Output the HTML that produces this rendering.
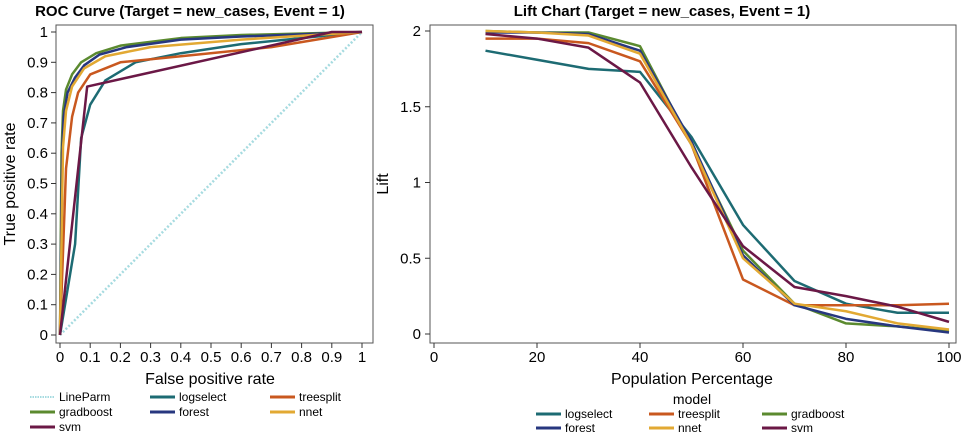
<!DOCTYPE html>
<html><head><meta charset="utf-8">
<style>
html,body{margin:0;padding:0;background:#fff;}
svg{display:block;font-family:"Liberation Sans",sans-serif;}
</style></head>
<body>
<svg id="chart" width="965" height="435" viewBox="0 0 965 435" xmlns="http://www.w3.org/2000/svg"></svg>
<script>
// ===== data =====
const models = ["logselect","treesplit","gradboost","forest","nnet","svm"];
const colors = ["#1d6b73","#c9581f","#5b8a2f","#27377f","#e2a933","#6b1846"];
const rocFpr = {
  logselect:[0,0.05,0.07,0.1,0.15,0.25,0.4,0.6,1],
  treesplit:[0,0.02,0.04,0.06,0.1,0.2,0.4,0.7,1],
  gradboost:[0,0.005,0.01,0.02,0.04,0.07,0.12,0.2,0.4,0.6,1],
  forest:[0,0.007,0.012,0.025,0.05,0.08,0.13,0.22,0.4,0.6,1],
  nnet:[0,0.01,0.02,0.04,0.08,0.15,0.3,0.6,1],
  svm:[0,0.09,0.9,1]
};
const rocTpr = {
  logselect:[0,0.3,0.65,0.76,0.84,0.9,0.93,0.96,1],
  treesplit:[0,0.55,0.72,0.8,0.86,0.9,0.92,0.95,1],
  gradboost:[0,0.6,0.74,0.81,0.86,0.9,0.93,0.955,0.98,0.99,1],
  forest:[0,0.6,0.72,0.8,0.85,0.89,0.925,0.95,0.975,0.985,1],
  nnet:[0,0.62,0.74,0.82,0.88,0.92,0.95,0.975,1],
  svm:[0,0.82,1,1]
};
const roc = {};
for (const m of models) roc[m] = rocFpr[m].map((x,i)=>[x, rocTpr[m][i]]);
const rocTicks = [0,0.1,0.2,0.3,0.4,0.5,0.6,0.7,0.8,0.9,1];
const rocTickLabels = ["0","0.1","0.2","0.3","0.4","0.5","0.6","0.7","0.8","0.9","1"];
const liftX = [10,20,30,40,50,60,70,80,90,100];
const liftLogselect = [1.87,1.81,1.75,1.73,1.3,0.72,0.35,0.2,0.14,0.14];
const liftTreesplit = [1.95,1.95,1.92,1.80,1.25,0.36,0.19,0.19,0.19,0.2];
const liftGradboost = [2.0,1.99,1.99,1.9,1.25,0.55,0.2,0.07,0.05,0.02];
const liftForest = [1.99,1.99,1.98,1.87,1.27,0.52,0.19,0.1,0.05,0.01];
const liftNnet = [2.0,1.99,1.97,1.85,1.25,0.5,0.2,0.15,0.07,0.03];
const liftSvm = [1.98,1.95,1.89,1.66,1.1,0.58,0.31,0.25,0.18,0.08];
const liftXTicks = [0,20,40,60,80,100];
const liftYTicks = [0,0.5,1,1.5,2];
const liftYTickLabels = ["0","0.5","1","1.5","2"];

const svg = document.getElementById('chart');
const NS = "http://www.w3.org/2000/svg";
function el(tag, attrs, parent){
  const e = document.createElementNS(NS, tag);
  for (const k in attrs) e.setAttribute(k, attrs[k]);
  (parent||svg).appendChild(e);
  return e;
}
function txt(s, attrs, parent){ const t = el('text', attrs, parent); t.textContent = s; return t; }

// ===== ROC =====
const rx = v => 60 + v*302;
const ry = v => 335 - v*303;
const g1 = el('g',{});


const t1 = txt("ROC Curve (Target = new_cases, Event = 1)",{x:190,y:16,'text-anchor':'middle','font-size':15,'font-weight':'bold'},g1);
 
const b1 = el('rect',{x:56,y:25,width:317,height:318,fill:'none',stroke:'#555','stroke-width':1},g1);
 
rocTicks.forEach((v,i)=>{
  el('line',{x1:rx(v),x2:rx(v),y1:343,y2:348,stroke:'#333'},g1);
  const a = txt(rocTickLabels[i],{x:rx(v),y:362,'text-anchor':'middle','font-size':15},g1);
   
  el('line',{x1:51,x2:56,y1:ry(v),y2:ry(v),stroke:'#333'},g1);
  const b = txt(rocTickLabels[i],{x:48,y:ry(v)+5,'text-anchor':'end','font-size':15},g1);
   
});
const xt1 = txt("False positive rate",{x:210,y:384,'text-anchor':'middle','font-size':16},g1);
 
const yt1 = txt("True positive rate",{x:0,y:0,'text-anchor':'middle','font-size':16,transform:'translate(15,184) rotate(-90)'},g1);
 
const diag = el('line',{x1:rx(0),y1:ry(0),x2:rx(1),y2:ry(1),stroke:'#a6dbe0','stroke-width':2.5,'stroke-dasharray':'2,2'},g1);
 
models.forEach((m,i)=>{
  const p = el('polyline',{points:roc[m].map(d=>rx(d[0])+','+ry(d[1])).join(' '),fill:'none',stroke:colors[i],'stroke-width':2.5,'stroke-linejoin':'round'},g1);
   
});
const leg1 = [["LineParm","#a6dbe0",true],["logselect",colors[0]],["treesplit",colors[1]],["gradboost",colors[2]],["forest",colors[3]],["nnet",colors[4]],["svm",colors[5]]];
leg1.forEach((d,i)=>{
  const col=i%3,row=Math.floor(i/3);
  const x = 30 + col*120, y = 398 + row*15;
  const g = el('g',{},g1);
   
  el('line',{x1:x,x2:x+25,y1:y-1,y2:y-1,stroke:d[1],'stroke-width':d[2]?2:3,'stroke-dasharray':d[2]?'1.5,1':'none'},g);
  txt(d[0],{x:x+29,y:y+3,'font-size':12},g);
});

// ===== Lift =====
const lx = v => 434 + v*5.15;
const ly = v => 334 - v*151.5;
const g2 = el('g',{});


const t2 = txt("Lift Chart (Target = new_cases, Event = 1)",{x:662,y:16,'text-anchor':'middle','font-size':15,'font-weight':'bold'},g2);
 
const b2 = el('rect',{x:430,y:25,width:526,height:318,fill:'none',stroke:'#555','stroke-width':1},g2);
 
liftXTicks.forEach(v=>{
  el('line',{x1:lx(v),x2:lx(v),y1:343,y2:348,stroke:'#333'},g2);
  const a = txt(String(v),{x:lx(v),y:362,'text-anchor':'middle','font-size':15},g2);
   
});
liftYTicks.forEach((v,i)=>{
  el('line',{x1:425,x2:430,y1:ly(v),y2:ly(v),stroke:'#333'},g2);
  const b = txt(liftYTickLabels[i],{x:421,y:ly(v)+5,'text-anchor':'end','font-size':15},g2);
   
});
const xt2 = txt("Population Percentage",{x:692,y:384,'text-anchor':'middle','font-size':16},g2);
 
const yt2 = txt("Lift",{x:0,y:0,'text-anchor':'middle','font-size':16,transform:'translate(388,184) rotate(-90)'},g2);
 
const liftSeries = [liftLogselect,liftTreesplit,liftGradboost,liftForest,liftNnet,liftSvm];
models.forEach((m,i)=>{
  const p = el('polyline',{points:liftX.map((x,j)=>lx(x)+','+ly(liftSeries[i][j])).join(' '),fill:'none',stroke:colors[i],'stroke-width':2.5,'stroke-linejoin':'round'},g2);
   
});
const lt = txt("model",{x:692,y:404,'text-anchor':'middle','font-size':14},g2);
 
models.forEach((m,i)=>{
  const col=i%3,row=Math.floor(i/3);
  const x = 536 + col*113, y = 415 + row*14;
  const g = el('g',{},g2);
   
  el('line',{x1:x,x2:x+25,y1:y-1,y2:y-1,stroke:colors[i],'stroke-width':3},g);
  txt(m,{x:x+29,y:y+3,'font-size':12},g);
});
</script>
</body></html>
